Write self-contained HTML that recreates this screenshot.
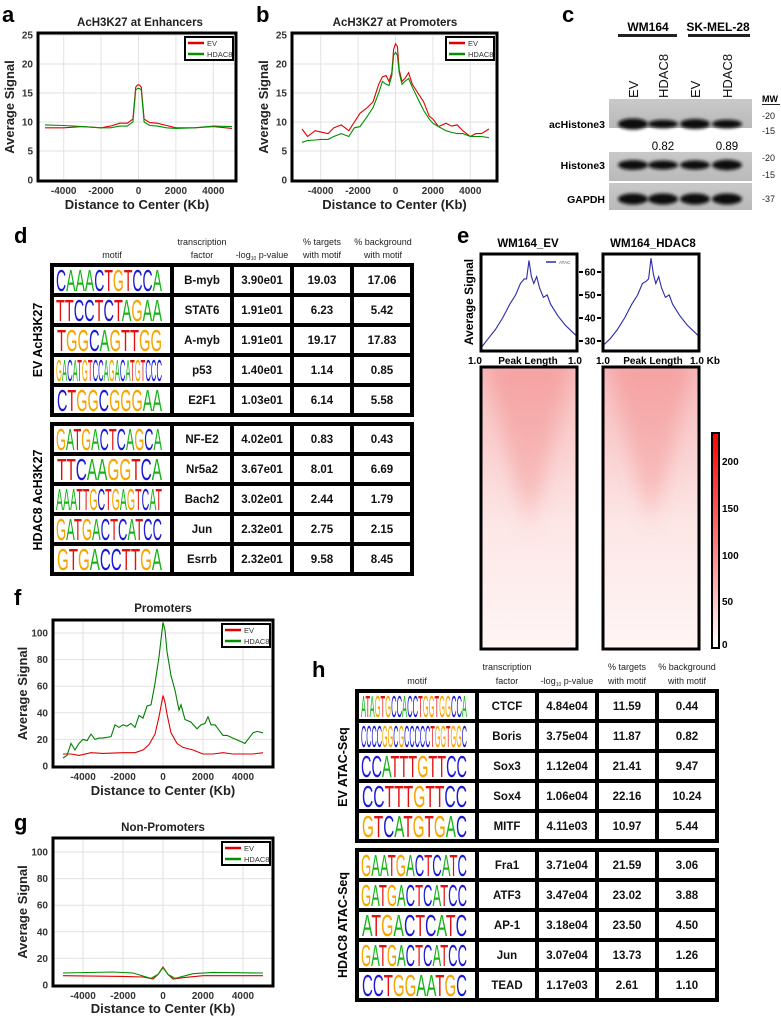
<!DOCTYPE html>
<html><head><meta charset="utf-8"><style>
html,body{margin:0;padding:0;background:#fff;}
svg{display:block;font-family:"Liberation Sans",Arial,sans-serif;}
.b{font-weight:bold;}
</style></head><body>
<svg id="root" width="781" height="1019" viewBox="0 0 781 1019" xmlns="http://www.w3.org/2000/svg">
<defs>
<filter id="blur" x="-20%" y="-50%" width="140%" height="200%"><feGaussianBlur stdDeviation="1.6"/></filter>
<filter id="hblur" x="-50%" y="-50%" width="200%" height="200%"><feGaussianBlur stdDeviation="9"/></filter>
<clipPath id="clipEV"><rect x="481" y="367" width="96" height="282"/></clipPath>
<clipPath id="clipHD"><rect x="603" y="367" width="96" height="282"/></clipPath>
<linearGradient id="cbar" x1="0" y1="0" x2="0" y2="1"><stop offset="0" stop-color="#ff0000"/><stop offset="0.5" stop-color="#f77"/><stop offset="1" stop-color="#fff"/></linearGradient>
<linearGradient id="hmv" x1="0" y1="0" x2="0" y2="1"><stop offset="0" stop-color="#f8bcbc"/><stop offset="0.3" stop-color="#fad2d2"/><stop offset="0.55" stop-color="#fde6e6"/><stop offset="1" stop-color="#fff5f5"/></linearGradient>
<linearGradient id="tri" x1="0" y1="0" x2="0" y2="1"><stop offset="0" stop-color="#f07070" stop-opacity="0.35"/><stop offset="0.7" stop-color="#f07070" stop-opacity="0.3"/><stop offset="1" stop-color="#f07070" stop-opacity="0"/></linearGradient>
<linearGradient id="blotbg" x1="0" y1="0" x2="0" y2="1"><stop offset="0" stop-color="#c9c9c9"/><stop offset="1" stop-color="#b9b9b9"/></linearGradient>
</defs>

<g class="b" font-size="22">
<text x="2" y="22">a</text>
<text x="256" y="22">b</text>
<text x="562" y="22">c</text>
<text x="14" y="243">d</text>
<text x="457" y="243">e</text>
<text x="14" y="605">f</text>
<text x="14" y="830">g</text>
<text x="312" y="677">h</text>
</g>

<text class="b" x="140" y="26" font-size="11.5" text-anchor="middle" fill="#222">AcH3K27 at Enhancers</text>
<text class="b" x="395" y="26" font-size="11.5" text-anchor="middle" fill="#222">AcH3K27 at Promoters</text>
<text class="b" x="163" y="612" font-size="11.5" text-anchor="middle" fill="#222">Promoters</text>
<text class="b" x="163" y="831" font-size="11.5" text-anchor="middle" fill="#222">Non-Promoters</text>

<g id="charts"></g>

<g id="blot">
<text class="b" x="648" y="31" font-size="12" text-anchor="middle">WM164</text>
<rect x="618" y="34" width="59" height="3" fill="#222"/>
<text class="b" x="718" y="31" font-size="12" text-anchor="middle">SK-MEL-28</text>
<rect x="688" y="34" width="62" height="3" fill="#222"/>
<g font-size="13" fill="#111">
<text transform="translate(638,98) rotate(-90)">EV</text>
<text transform="translate(668,98) rotate(-90)">HDAC8</text>
<text transform="translate(700,98) rotate(-90)">EV</text>
<text transform="translate(732,98) rotate(-90)">HDAC8</text>
</g>
<text class="b" x="762" y="102" font-size="9">MW</text>
<rect x="762" y="104" width="18" height="1" fill="#222"/>
<g class="b" font-size="10.5" text-anchor="end">
<text x="605" y="128">acHistone3</text>
<text x="605" y="169">Histone3</text>
<text x="605" y="203">GAPDH</text>
</g>
<g font-size="9" fill="#222">
<text x="762" y="119">-20</text><text x="762" y="134">-15</text>
<text x="762" y="161">-20</text><text x="762" y="178">-15</text>
<text x="762" y="202">-37</text>
</g>
<text x="663" y="150" font-size="11.5" text-anchor="middle">0.82</text>
<text x="727" y="150" font-size="11.5" text-anchor="middle">0.89</text>
</g>

<g id="tables"></g>
<g font-size="9" text-anchor="middle" fill="#222">
<text x="112" y="258">motif</text>
<text x="202" y="245">transcription</text><text x="202" y="258">factor</text>
<text x="262" y="258">-log<tspan font-size="5" dy="2">10</tspan><tspan dy="-2"> p-value</tspan></text>
<text x="322" y="245">% targets</text><text x="322" y="258">with motif</text>
<text x="383" y="245">% background</text><text x="383" y="258">with motif</text>
</g>
<g font-size="9" text-anchor="middle" fill="#222">
<text x="417" y="684">motif</text>
<text x="507" y="670">transcription</text><text x="507" y="684">factor</text>
<text x="567" y="684">-log<tspan font-size="5" dy="2">10</tspan><tspan dy="-2"> p-value</tspan></text>
<text x="627" y="670">% targets</text><text x="627" y="684">with motif</text>
<text x="687" y="670">% background</text><text x="687" y="684">with motif</text>
</g>
<g class="b" font-size="12.5" text-anchor="middle">
<text transform="translate(42,340) rotate(-90)">EV AcH3K27</text>
<text transform="translate(42,500) rotate(-90)">HDAC8 AcH3K27</text>
<text transform="translate(347,767) rotate(-90)">EV ATAC-Seq</text>
<text transform="translate(347,925) rotate(-90)">HDAC8 ATAC-Seq</text>
</g>

<g id="panelE">
<text class="b" x="528" y="247" font-size="11.5" text-anchor="middle">WM164_EV</text>
<text class="b" x="653" y="247" font-size="11.5" text-anchor="middle">WM164_HDAC8</text>
<text class="b" transform="translate(473,302) rotate(-90)" font-size="12" text-anchor="middle">Average Signal</text>
<g class="b" font-size="10">
<text x="468" y="364">1.0</text><text x="528" y="364" text-anchor="middle">Peak Length</text><text x="568" y="364">1.0</text>
<text x="596" y="364">1.0</text><text x="653" y="364" text-anchor="middle">Peak Length</text><text x="690" y="364">1.0 Kb</text>
</g>
<rect x="481" y="367" width="96" height="282" fill="url(#hmv)"/>
<g clip-path="url(#clipEV)"><polygon points="486,360 572,360 529,545" fill="url(#tri)" filter="url(#hblur)"/></g>
<rect x="481" y="367" width="96" height="282" fill="none" stroke="#000" stroke-width="3"/>
<rect x="603" y="367" width="96" height="282" fill="url(#hmv)"/>
<g clip-path="url(#clipHD)"><polygon points="608,360 694,360 651,540" fill="url(#tri)" filter="url(#hblur)"/></g>
<rect x="603" y="367" width="96" height="282" fill="none" stroke="#000" stroke-width="3"/>
<rect x="712" y="433" width="7" height="215" fill="url(#cbar)" stroke="#000" stroke-width="2"/>
<g class="b" font-size="10">
<text x="722" y="465">200</text><text x="722" y="512">150</text><text x="722" y="559">100</text><text x="722" y="605">50</text><text x="722" y="648">0</text>
</g>
</g>
</svg>
<script>
const NS='http://www.w3.org/2000/svg';
function mk(tag,attrs,name,parent){
  const el=document.createElementNS(NS,tag);
  for(const k in attrs) el.setAttribute(k,attrs[k]);
  
  
  (parent||document.getElementById('root')).appendChild(el);
  return el;
}

const aX=[-5000,-4000,-3000,-2000,-1500,-1000,-600,-300,-150,-50,50,150,300,600,1000,1500,2000,3000,4000,5000];
const aEV=[9.0,9.0,9.2,9.0,9.3,9.8,9.8,10.5,16,16.4,16.4,16,10.5,9.9,9.8,9.4,9.0,9.0,9.2,8.9];
const aHD=[9.5,9.4,9.2,9.0,9.0,9.3,9.3,10,15.5,15.8,15.8,15.5,10,9.4,9.3,9.0,8.9,9.0,9.3,9.2];
const bX=[-5000,-4700,-4300,-4000,-3600,-3300,-2900,-2500,-2200,-1900,-1500,-1200,-900,-700,-500,-350,-200,-100,0,100,200,350,500,700,900,1200,1500,1800,2000,2300,2700,3000,3300,3600,4000,4300,4600,5000];
const bEV=[8.8,7.5,8.5,8.3,8.0,9.0,9.5,8.5,10,11.5,12.5,13.5,16.5,17.8,18,17,18.5,22.5,23.5,23,19,17,17.5,18.5,16.5,15,13.5,11,10.5,9.2,9.8,9.3,9.5,8.5,7.5,8,8,8.8];
const bHD=[6.5,6.8,6.9,7.0,7.0,7.5,8.0,7.5,9,9.2,11,12.5,15,17,16.5,16.3,18,21.5,22,21.5,18.5,16.5,17,17.5,16,14,12,10.5,9.8,9.2,8.5,8.2,8.0,8.0,7.5,7.5,7.5,7.3];
const fXH=[-5000,-4800,-4600,-4400,-4200,-4000,-3800,-3600,-3400,-3200,-3000,-2600,-2400,-2200,-2000,-1800,-1600,-1400,-1200,-1000,-800,-600,-400,-200,-100,0,100,200,400,600,800,900,1100,1400,1700,1900,2100,2250,2400,2600,2800,3000,3200,3500,3800,4100,4300,4500,4700,5000];
const fHD=[6,8,17,12,17,20,19,24,20,21,21,22,31,29,31,30,32,29,38,36,45,46,62,82,95,108,102,86,68,57,42,46,35,33,28,31,32,37,31,31,27,23,23,21,19,17,21,25,26,25];
const fXE=[-5000,-4600,-4200,-3600,-3000,-2000,-1400,-1000,-700,-400,-200,0,100,200,400,700,1000,1500,2000,2500,3000,3500,4000,4500,5000];
const fEV=[9,9,8,10,9.5,10,10,12,16,24,37,53,48,39,25,17,14,12,9,9,10,9,9,9,10];
const gXE=[-5000,-2000,-1000,-500,-250,0,250,500,1000,2000,5000];
const gEV=[7,6.5,6,4.5,8,13.5,8,4.5,5.5,7,7];
const gXH=[-5000,-2500,-1500,-600,-250,0,250,600,1500,2500,5000];
const gHD=[9,9.8,9,5,8,13,8,5,8.5,9.5,9];
const eX=[-1,-0.85,-0.7,-0.55,-0.4,-0.28,-0.18,-0.1,-0.05,0,0.05,0.1,0.16,0.22,0.3,0.38,0.45,0.6,0.75,0.9,1];
const eEV=[27,31,35,40,46,50,55,57,57,65,58,55,58,53,49,50,46,41,37,34,32];
const eHD=[28,31,35,40,46,50,55,56,57,66,59,55,58,53,49,50,46,41,37,34,32];
const aYTicks=[0,5,10,15,20,25];
const fYTicks=[0,20,40,60,80,100];
const xTicks=[-4000,-2000,0,2000,4000];
const eYTicks=[30,40,50,60];

function lineChart(o){
  const g=mk('g',{},o.name,document.getElementById('charts'));
  const px=x=>o.cx+x*o.k, py=v=>o.yb-v*o.ky;
  mk('rect',{x:o.x0,y:o.y0,width:o.x1-o.x0,height:o.y1-o.y0,fill:'#fff'},o.name+'-plot-area',g);
  o.yt.forEach(t=>{
    mk('line',{x1:o.x0,x2:o.x1,y1:py(t),y2:py(t),stroke:'#e2e2e2','stroke-width':1},'y-gridline',g);
    const tx=mk('text',{x:o.x0-5,y:py(t)+3.5,'font-size':10,'text-anchor':'end','font-weight':'bold',fill:'#333'},'y-tick-label',g);
    tx.textContent=t;
  });
  xTicks.forEach(t=>{
    mk('line',{x1:px(t),x2:px(t),y1:o.y0,y2:o.y1,stroke:'#e2e2e2','stroke-width':1},'x-gridline',g);
    const tx=mk('text',{x:px(t),y:o.y1+13,'font-size':10,'text-anchor':'middle','font-weight':'bold',fill:'#333'},'x-tick-label',g);
    tx.textContent=t;
  });
  o.series.forEach(s=>{
    const d=s.x.map((x,i)=>(i?'L':'M')+px(x).toFixed(1)+','+py(s.v[i]).toFixed(1)).join('');
    mk('path',{d:d,fill:'none',stroke:s.c,'stroke-width':1.1},'line-'+s.n,g);
  });
  mk('rect',{x:o.x0,y:o.y0,width:o.x1-o.x0,height:o.y1-o.y0,fill:'none',stroke:'#000','stroke-width':3},o.name+'-frame',g);
  const lx=o.x1-51, ly=o.y0+4;
  mk('rect',{x:lx,y:ly,width:48,height:23,fill:'#fff',stroke:'#000','stroke-width':2},'legend-box',g);
  [['EV','#e00000'],['HDAC8','#009000']].forEach((e,i)=>{
    mk('line',{x1:lx+3,x2:lx+19,y1:ly+6+i*11,y2:ly+6+i*11,stroke:e[1],'stroke-width':2.5},'legend-swatch',g);
    const t=mk('text',{x:lx+22,y:ly+9+i*11,'font-size':7.5,fill:'#333'},'legend-entry',g);
    t.textContent=e[0];
  });
  const xt=mk('text',{x:(o.x0+o.x1)/2,y:o.xty,'font-size':13,'font-weight':'bold','text-anchor':'middle',fill:'#222'},'x-axis-title',g);
  xt.textContent='Distance to Center (Kb)';
  const cy=(o.y0+o.y1)/2;
  const yt=mk('text',{transform:'translate('+o.ytx+','+cy+') rotate(-90)','font-size':13,'font-weight':'bold','text-anchor':'middle',fill:'#222'},'y-axis-title',g);
  yt.textContent='Average Signal';
}
lineChart({name:'chart-a',x0:38,x1:236,y0:33,y1:181,cx:138.5,k:0.0187,yb:180,ky:5.8,yt:aYTicks,xty:209,ytx:14,
  series:[{x:aX,v:aEV,c:'#e00000',n:'ev'},{x:aX,v:aHD,c:'#009000',n:'hdac8'}]});
lineChart({name:'chart-b',x0:292,x1:497,y0:33,y1:181,cx:395.5,k:0.0187,yb:180,ky:5.8,yt:aYTicks,xty:209,ytx:268,
  series:[{x:bX,v:bEV,c:'#e00000',n:'ev'},{x:bX,v:bHD,c:'#009000',n:'hdac8'}]});
lineChart({name:'chart-f',x0:53,x1:273,y0:620,y1:767,cx:163,k:0.02,yb:766,ky:1.33,yt:fYTicks,xty:795,ytx:27,
  series:[{x:fXE,v:fEV,c:'#e00000',n:'ev'},{x:fXH,v:fHD,c:'#007f00',n:'hdac8'}]});
lineChart({name:'chart-g',x0:53,x1:273,y0:838,y1:986,cx:163,k:0.02,yb:985,ky:1.33,yt:fYTicks,xty:1013,ytx:27,
  series:[{x:gXE,v:gEV,c:'#e00000',n:'ev'},{x:gXH,v:gHD,c:'#009000',n:'hdac8'}]});

function profile(x0,vals,name,ticks){
  const E=document.getElementById('panelE');
  const w=96, y0=254, y1=351;
  const px=x=>x0+(x+1)/2*w, py=v=>272-(v-60)*2.3;
  mk('rect',{x:x0,y:y0,width:w,height:y1-y0,fill:'#fff'},name+'-area',E);
  const d=eX.map((x,i)=>(i?'L':'M')+px(x).toFixed(1)+','+py(vals[i]).toFixed(1)).join('');
  mk('path',{d:d,fill:'none',stroke:'#2b2ba8','stroke-width':1.1},name+'-line',E);
  mk('rect',{x:x0,y:y0,width:w,height:y1-y0,fill:'none',stroke:'#000','stroke-width':3},name+'-frame',E);
  if(ticks){
    eYTicks.forEach(t=>{
      mk('line',{x1:x0+w+2,x2:x0+w+6,y1:py(t),y2:py(t),stroke:'#000','stroke-width':2},'e-y-tick',E);
      mk('line',{x1:603-6,x2:603-2,y1:py(t),y2:py(t),stroke:'#000','stroke-width':2},'e-y-tick',E);
      const tx=mk('text',{x:590,y:py(t)+3.5,'font-size':10,'font-weight':'bold','text-anchor':'middle'},'e-y-tick-label',E);
      tx.textContent=t;
    });
    mk('line',{x1:546,x2:556,y1:262,y2:262,stroke:'#2b2ba8','stroke-width':1.5},'legend-swatch-atac',E);
    const lt=mk('text',{x:559,y:264,'font-size':4.5,fill:'#555'},'legend-entry-atac',E);
    lt.textContent='ATAC';
  }
}
profile(481,eEV,'profile-ev',true);
profile(603,eHD,'profile-hdac8',false);

const laneX=[633,663,695,727];
const blotRows=[
  {y:99,h:29,band:124,w:[1,0.55,0.85,0.6],name:'blot-achistone3'},
  {y:152,h:29,band:165,w:[0.8,0.65,0.7,0.9],name:'blot-histone3'},
  {y:183,h:27,band:199,w:[1,1,1,1],name:'blot-gapdh'}];
const B=document.getElementById('blot');
blotRows.forEach(r=>{
  mk('rect',{x:609,y:r.y,width:143,height:r.h,fill:'url(#blotbg)'},r.name,B);
  laneX.forEach((x,i)=>{
    mk('ellipse',{cx:x,cy:r.band,rx:15,ry:2.5+r.w[i]*3,fill:'#0a0a0a',filter:'url(#blur)'},'band',B);
  });
});

const dEVmotif=["CAAACTGTCCA","TTCCTCTAGAA","TGGCAGTTGG","GACATGTCCAGACATGTCCC","CTGGCGGGAA"];
const dEVtf=["B-myb","STAT6","A-myb","p53","E2F1"];
const dEVp=["3.90e01","1.91e01","1.91e01","1.40e01","1.03e01"];
const dEVt=["19.03","6.23","19.17","1.14","6.14"];
const dEVb=["17.06","5.42","17.83","0.85","5.58"];
const dHDmotif=["GATGACTCAGCA","TTCAAGGTCA","AAATTGCTGAGTCAT","GATGACTCATCC","GTGACCTTGA"];
const dHDtf=["NF-E2","Nr5a2","Bach2","Jun","Esrrb"];
const dHDp=["4.02e01","3.67e01","3.02e01","2.32e01","2.32e01"];
const dHDt=["0.83","8.01","2.44","2.75","9.58"];
const dHDb=["0.43","6.69","1.79","2.15","8.45"];
const hEVmotif=["ATAGTGCCACCTGGTGGCCA","CCCCGGCGCCCCCTGGTGGC","CCATTTGTTCC","CCTTTGTTCC","GTCATGTGAC"];
const hEVtf=["CTCF","Boris","Sox3","Sox4","MITF"];
const hEVp=["4.84e04","3.75e04","1.12e04","1.06e04","4.11e03"];
const hEVt=["11.59","11.87","21.41","22.16","10.97"];
const hEVb=["0.44","0.82","9.47","10.24","5.44"];
const hHDmotif=["GAATGACTCATC","GATGACTCATCC","ATGACTCATC","GATGACTCATCC","CCTGGAATGC"];
const hHDtf=["Fra1","ATF3","AP-1","Jun","TEAD"];
const hHDp=["3.71e04","3.47e04","3.18e04","3.07e04","1.17e03"];
const hHDt=["21.59","23.02","23.50","13.73","2.61"];
const hHDb=["3.06","3.88","4.50","1.26","1.10"];

const baseColor={A:'#17b317',C:'#1a1ad6',G:'#f5a400',T:'#e01010'};
function drawTable(x0,y0,motifs,tfs,ps,ts,bs,name){
  const T=document.getElementById('tables');
  const g=mk('g',{},name,T);
  mk('rect',{x:x0,y:y0,width:364,height:154,fill:'#000'},name+'-frame',g);
  const cols=[[4,116],[124,56],[184,56],[244,56],[304,56]];
  motifs.forEach((m,i)=>{
    const ry=y0+4+i*30;
    cols.forEach(c=>mk('rect',{x:x0+c[0],y:ry,width:c[1],height:26,fill:'#fff'},'table-cell',g));
    const n=m.length, lw=Math.min(106, n*10.5);
    const t=mk('text',{x:x0+112-lw,y:ry+24,'font-size':31,textLength:lw,lengthAdjust:'spacingAndGlyphs'},'motif-logo',g);
    for(const ch of m){
      const sp=document.createElementNS(NS,'tspan');
      sp.setAttribute('fill',baseColor[ch]);
      sp.textContent=ch;
      t.appendChild(sp);
    }
    [tfs[i],ps[i],ts[i],bs[i]].forEach((v,j)=>{
      const c=cols[j+1];
      const tx=mk('text',{x:x0+c[0]+c[1]/2,y:ry+17,'font-size':11.5,'font-weight':'bold','text-anchor':'middle',fill:'#111'},'table-value',g);
      tx.textContent=v;
    });
  });
}
drawTable(50,263,dEVmotif,dEVtf,dEVp,dEVt,dEVb,'table-d-ev');
drawTable(50,422,dHDmotif,dHDtf,dHDp,dHDt,dHDb,'table-d-hdac8');
drawTable(355,689,hEVmotif,hEVtf,hEVp,hEVt,hEVb,'table-h-ev');
drawTable(355,848,hHDmotif,hHDtf,hHDp,hHDt,hHDb,'table-h-hdac8');
</script>
</body></html>
